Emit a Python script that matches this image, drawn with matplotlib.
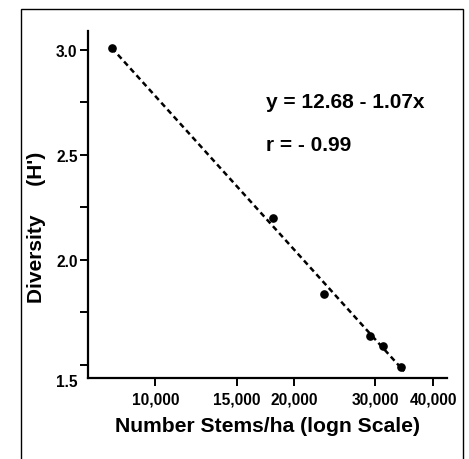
import numpy as np
import matplotlib.pyplot as plt
from matplotlib.patches import Rectangle
from matplotlib.ticker import FixedLocator, FixedFormatter, NullFormatter
import matplotlib.transforms as mtransforms

plt.rcParams['font.family'] = ['Liberation Sans', 'DejaVu Sans']
plt.rcParams['font.weight'] = 'bold'

# Donnees
stems = [8040, 17960, 23200, 29140, 31190, 34060]
diversity = [3.01, 2.20, 1.84, 1.64, 1.59, 1.49]

# droite de regression (extremites)
fit_x = [8040, 34600]
fit_y = [3.01, 1.47]

xticks = [10000, 15000, 20000, 30000, 40000]
xtick_labels = ['10,000', '15,000', '20,000', '30,000', '40,000']
yticks = [1.5, 2.0, 2.5, 3.0]
yticks_minor = [1.75, 2.25, 2.75]

fig = plt.figure(figsize=(4.69, 4.60), dpi=100)
ax = fig.add_axes([88 / 469, 1 - 379 / 460, (447 - 88) / 469, (379 - 32) / 460])

ax.plot(fit_x, fit_y, color='black', lw=1.8, dashes=(2.2, 1.5))
ax.plot(stems, diversity, 'o', color='black', markersize=5.2)

ax.set_xscale('log')
ax.set_xlim(7144, 42870)
ax.set_ylim(1.438, 3.09)

ax.xaxis.set_major_locator(FixedLocator(xticks))
ax.xaxis.set_major_formatter(FixedFormatter(xtick_labels))
ax.xaxis.set_minor_locator(FixedLocator([]))
ax.xaxis.set_minor_formatter(NullFormatter())
ax.yaxis.set_major_locator(FixedLocator(yticks))
ax.yaxis.set_minor_locator(FixedLocator(yticks_minor))
ax.set_yticklabels(['1.5', '2.0', '2.5', '3.0'])

for s in ['top', 'right']:
    ax.spines[s].set_visible(False)
for s in ['left', 'bottom']:
    ax.spines[s].set_linewidth(1.6)

ax.tick_params(axis='both', which='both', direction='out', length=5.5, width=1.4,
               labelsize=11.2)
ax.tick_params(axis='x', pad=4)
ax.tick_params(axis='y', pad=2)
for lab in ax.get_xticklabels() + ax.get_yticklabels():
    lab.set_fontweight('bold')

# le label 1.5 est decale vers le bas sur l'original
lab15 = ax.get_yticklabels()[0]
lab15.set_transform(lab15.get_transform() + mtransforms.ScaledTranslation(0, -11 / 72, fig.dpi_scale_trans))

ax.set_xlabel('Number Stems/ha (logn Scale)', fontsize=15.2, fontweight='bold', labelpad=7)
fig.text(37 / 469, 1 - 227 / 460, "Diversity     (H')", rotation=90, fontsize=15,
         fontweight='bold', ha='center', va='center')

ax.text(266 / 469, 1 - 103 / 460, 'y = 12.68 - 1.07x', transform=fig.transFigure,
        fontsize=15, fontweight='bold', ha='left', va='center')
ax.text(266 / 469, 1 - 146 / 460, 'r = - 0.99', transform=fig.transFigure,
        fontsize=15, fontweight='bold', ha='left', va='center')

# cadre autour de la figure
fig.patches.append(Rectangle((21 / 469, -0.05), (463 - 21) / 469, 1.05 - 10 / 460,
                             transform=fig.transFigure, fill=False, lw=1.0,
                             edgecolor='black'))

plt.savefig('out.png', dpi=100)
plt.close()
